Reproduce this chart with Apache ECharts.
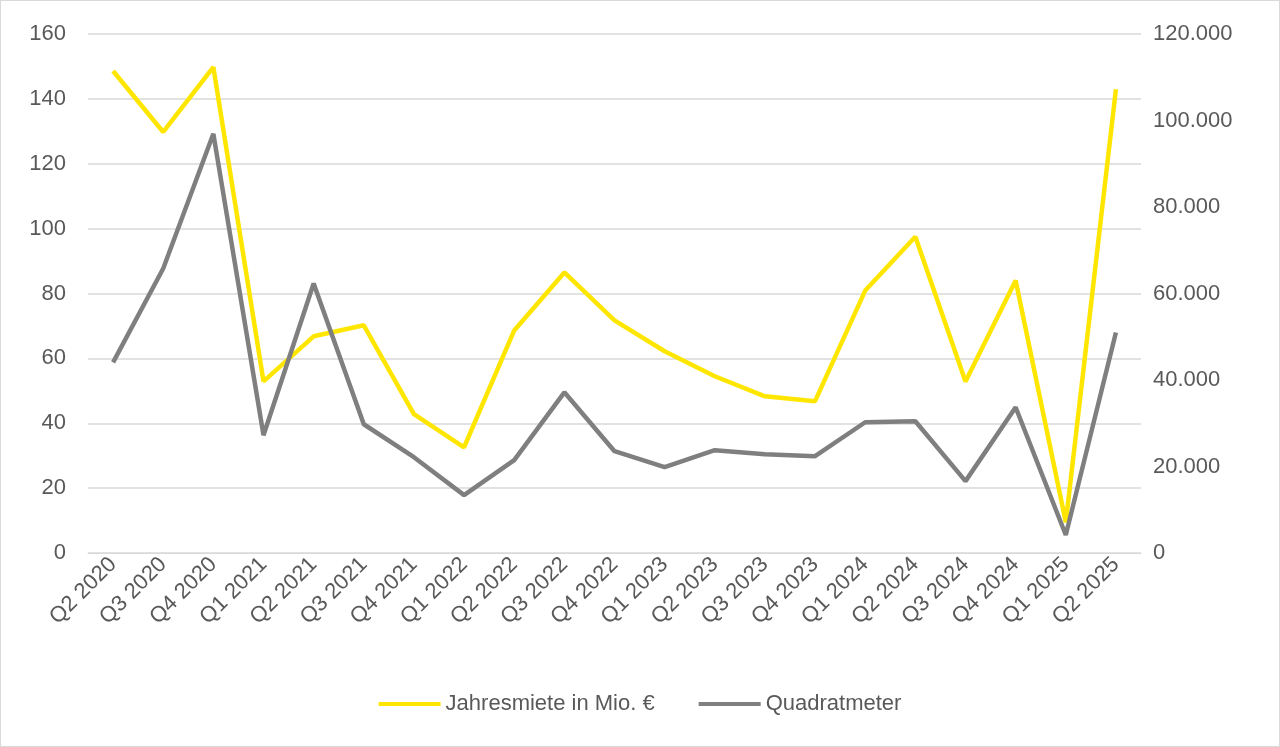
<!DOCTYPE html>
<html>
<head>
<meta charset="utf-8">
<script src="https://cdn.jsdelivr.net/npm/echarts@6/dist/echarts.min.js"></script>
<style>
  html, body { margin: 0; padding: 0; background: #fff; }
  #chart { width: 1278px; height: 745px; border: 1px solid #d9d9d9; }
</style>
</head>
<body>
<div id="chart"></div>
<script>
var categories = ['Q2 2020','Q3 2020','Q4 2020','Q1 2021','Q2 2021','Q3 2021','Q4 2021','Q1 2022','Q2 2022','Q3 2022','Q4 2022','Q1 2023','Q2 2023','Q3 2023','Q4 2023','Q1 2024','Q2 2024','Q3 2024','Q4 2024','Q1 2025','Q2 2025'];
var jahresmiete = [148.6, 129.8, 149.8, 52.9, 66.8, 70.2, 42.8, 32.6, 68.6, 86.5, 71.7, 62.2, 54.5, 48.3, 46.8, 80.9, 97.5, 52.9, 84, 9.5, 143];
var quadratmeter = [44080, 65770, 96920, 27230, 62310, 29770, 22150, 13380, 21460, 37150, 23540, 19850, 23770, 22850, 22390, 30230, 30460, 16620, 33690, 4150, 51000];

var chart = echarts.init(document.getElementById('chart'));
var txt = { color: '#595959', fontFamily: 'Liberation Sans, Arial', fontSize: 22 };

chart.setOption({
  animation: false,
  grid: { left: 87, right: 138, top: 33, bottom: 193 },
  legend: {
    bottom: 26,
    itemWidth: 62, itemHeight: 4, itemGap: 44,
    icon: 'rect',
    textStyle: txt,
    data: ['Jahresmiete in Mio. €', 'Quadratmeter']
  },
  xAxis: {
    type: 'category',
    data: categories,
    axisLine: { lineStyle: { color: '#d9d9d9' } },
    axisTick: { show: false },
    axisLabel: Object.assign({ rotate: 45, interval: 0, margin: 8 }, txt)
  },
  yAxis: [{
    type: 'value', min: 0, max: 160, interval: 20,
    axisLine: { show: false }, axisTick: { show: false },
    splitLine: { lineStyle: { color: '#d9d9d9', width: 1.5 } },
    axisLabel: Object.assign({ margin: 22 }, txt)
  }, {
    type: 'value', min: 0, max: 120000, interval: 20000,
    axisLine: { show: false }, axisTick: { show: false },
    splitLine: { show: false },
    axisLabel: Object.assign({
      margin: 12,
      formatter: function (v) { return String(v).replace(/\B(?=(\d{3})+(?!\d))/g, '.'); }
    }, txt)
  }],
  series: [{
    name: 'Jahresmiete in Mio. €',
    type: 'line',
    data: jahresmiete,
    symbol: 'none',
    lineStyle: { color: '#FFE600', width: 4.5 },
    itemStyle: { color: '#FFE600' }
  }, {
    name: 'Quadratmeter',
    type: 'line',
    yAxisIndex: 1,
    data: quadratmeter,
    symbol: 'none',
    lineStyle: { color: '#7f7f7f', width: 4.5 },
    itemStyle: { color: '#7f7f7f' }
  }]
});
</script>
</body>
</html>
